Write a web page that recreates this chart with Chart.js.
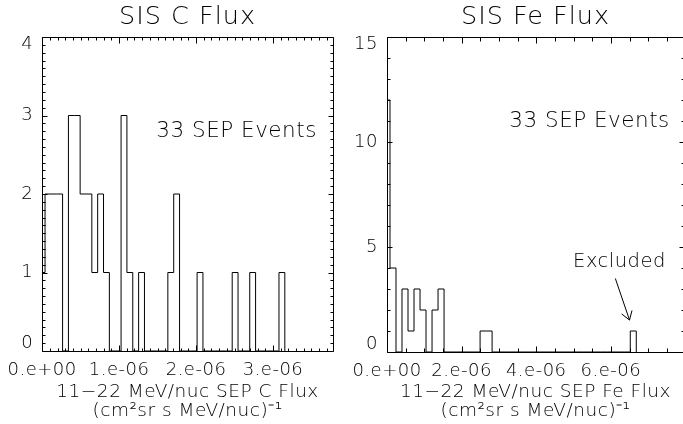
<!DOCTYPE html>
<html>
<head>
<meta charset="utf-8">
<script src="https://cdn.jsdelivr.net/npm/chart.js@4.4.1/dist/chart.umd.min.js"></script>
<style>
  html, body { margin: 0; padding: 0; background: #fff; width: 683px; height: 424px; overflow: hidden; }
  .panel { position: absolute; top: 0; height: 424px; }
</style>
</head>
<body>
<div class="panel" style="left:0;width:340px"><canvas id="cChart"></canvas></div>
<div class="panel" style="left:340px;width:350px"><canvas id="feChart"></canvas></div>
<script>
// ---------------- data (flux in units of 1e-6 (cm^2 sr s MeV/nuc)^-1) ----------------
const cBinStart = -0.038;      // left edge of first histogram bin
const cBinWidth = 0.076;
const cCounts = [1, 2, 2, 2, 0, 3, 3, 2, 2, 1, 2, 1, 0, 0, 3, 1, 0, 1, 0, 0, 0, 0,
                 1, 2, 0, 0, 0, 1, 0, 0, 0, 0, 0, 1, 0, 0, 1, 0, 0, 0, 0, 1];

const feBinStart = -0.081;
const feBinWidth = 0.161;
const feCounts = [12, 4, 0, 3, 1, 3, 2, 0, 2, 3, 0, 0, 0, 0, 0, 0, 1, 1,
                  0, 0, 0, 0, 0, 0, 0, 0, 0, 0, 0, 0, 0, 0, 0, 0, 0, 0, 0, 0, 0, 0, 0, 1];

const cXTickLabels = ['0.e+00', '1.e-06', '2.e-06', '3.e-06'];
const feXTickLabels = ['0.e+00', '2.e-06', '4.e-06', '6.e-06'];
const cYTickLabels = ['0', '1', '2', '3', '4'];
const feYTickLabels = ['0', '5', '10', '15'];

const cTitle = 'SIS C Flux';
const feTitle = 'SIS Fe Flux';
const cAxisTitle = ['11\u221222 MeV/nuc SEP C Flux', '(cm\u00b2sr s MeV/nuc)\u207b\u00b9'];
const feAxisTitle = ['11\u221222 MeV/nuc SEP Fe Flux', '(cm\u00b2sr s MeV/nuc)\u207b\u00b9'];
const eventsLabel = '33 SEP Events';
const excludedLabel = 'Excluded';

// ---------------- rendering ----------------
const FONT = '"DejaVu Sans", "Liberation Sans", sans-serif';
const W = '200';

function histPoints(start, width, counts) {
  const pts = [{ x: start, y: 0 }];
  counts.forEach((c, i) => pts.push({ x: start + i * width, y: c }));
  pts.push({ x: start + counts.length * width, y: 0 });
  return pts;
}

const idlPlugin = {
  id: 'idl',
  beforeDraw(chart) { chart.ctx.letterSpacing = '0.5px'; },
  afterDraw(chart, args, o) {
    const ctx = chart.ctx, a = chart.chartArea, xs = chart.scales.x, ys = chart.scales.y;
    const px = v => Math.round(v) + 0.5;
    const L = px(a.left), R = px(a.right), T = px(a.top), B = px(a.bottom);
    ctx.save();
    ctx.strokeStyle = '#000';
    ctx.fillStyle = '#000';
    ctx.lineWidth = 1;
    ctx.beginPath();
    ctx.rect(L, T, R - L, B - T);
    const nx = Math.round((xs.max - xs.min) / o.xMinor);
    for (let k = 0; k <= nx; k++) {
      const v = xs.min + k * o.xMinor;
      if (v > xs.max + 1e-9) continue;
      const p = px(xs.getPixelForValue(v));
      const major = Math.abs(v / o.xMajor - Math.round(v / o.xMajor)) < 1e-6;
      const len = major ? o.xMajLen : o.xMinLen;
      ctx.moveTo(p, B); ctx.lineTo(p, B - len);
      ctx.moveTo(p, T); ctx.lineTo(p, T + len);
    }
    const ny = Math.round((ys.max - ys.min) / o.yMinor);
    for (let k = 0; k <= ny; k++) {
      const v = ys.min + k * o.yMinor;
      const p = px(ys.getPixelForValue(v));
      const major = Math.abs(v / o.yMajor - Math.round(v / o.yMajor)) < 1e-6;
      const len = major ? o.yMajLen : o.yMinLen;
      ctx.moveTo(L, p); ctx.lineTo(L + len, p);
      ctx.moveTo(R, p); ctx.lineTo(R - len, p);
    }
    ctx.stroke();

    ctx.letterSpacing = '0.5px';
    ctx.font = W + ' 18px ' + FONT;
    ctx.textAlign = 'right';
    ctx.textBaseline = 'middle';
    ys.ticks.forEach((t, i) => {
      let p = ys.getPixelForValue(t.value);
      p = Math.min(Math.max(p, a.top + 7), a.bottom - 7.5);
      ctx.fillText(o.yLabels[i], a.left - 9, p);
    });

    ctx.letterSpacing = '1px';
    ctx.font = W + ' 25.5px ' + FONT;
    ctx.textAlign = 'center';
    ctx.fillText(o.title, (a.left + a.right) / 2, 17);

    ctx.letterSpacing = '0.5px';
    (o.notes || []).forEach(n => {
      ctx.font = W + ' ' + n.size + 'px ' + FONT;
      ctx.textAlign = n.align;
      ctx.fillText(n.text, xs.getPixelForValue(n.x), ys.getPixelForValue(n.y));
    });

    if (o.arrow) {
      const x1 = xs.getPixelForValue(o.arrow.x1), y1 = ys.getPixelForValue(o.arrow.y1);
      const x2 = xs.getPixelForValue(o.arrow.x2), y2 = ys.getPixelForValue(o.arrow.y2);
      const ang = Math.atan2(y1 - y2, x1 - x2), hl = 10, ha = 0.58;
      ctx.beginPath();
      ctx.moveTo(x1, y1); ctx.lineTo(x2, y2);
      ctx.moveTo(x2 + hl * Math.cos(ang - ha), y2 + hl * Math.sin(ang - ha));
      ctx.lineTo(x2, y2);
      ctx.lineTo(x2 + hl * Math.cos(ang + ha), y2 + hl * Math.sin(ang + ha));
      ctx.stroke();
    }
    ctx.restore();
  }
};

function makeChart(id, p) {
  return new Chart(document.getElementById(id), {
    type: 'line',
    data: {
      datasets: [{
        data: histPoints(p.binStart, p.binWidth, p.counts),
        stepped: 'before',
        borderColor: '#000',
        borderWidth: 1,
        pointRadius: 0,
        fill: false,
        tension: 0
      }]
    },
    options: {
      responsive: true,
      maintainAspectRatio: false,
      animation: false,
      events: [],
      layout: { padding: { top: p.padTop, right: p.padRight, left: 0, bottom: 0 } },
      plugins: {
        legend: { display: false },
        tooltip: { enabled: false },
        idl: p.idl
      },
      scales: {
        x: {
          type: 'linear',
          min: 0,
          max: p.xMax,
          grid: { display: false, drawTicks: false },
          border: { display: false },
          ticks: {
            stepSize: p.xStep,
            includeBounds: false,
            autoSkip: false,
            maxRotation: 0,
            padding: 9,
            color: '#000',
            font: { family: FONT, size: 18, weight: W },
            callback: (v, i) => p.xTickLabels[i]
          },
          title: {
            display: true,
            text: p.axisTitle,
            color: '#000',
            font: { family: FONT, size: 18.5, lineHeight: 1.03, weight: W },
            padding: { top: 0, bottom: 3.5 }
          },
          afterFit(s) { s.height = p.xHeight; }
        },
        y: {
          type: 'linear',
          min: 0,
          max: p.yMax,
          grid: { display: false, drawTicks: false },
          border: { display: false },
          ticks: { display: false, stepSize: p.yStep, includeBounds: false },
          afterFit(s) { s.width = p.yWidth; }
        }
      }
    },
    plugins: [idlPlugin]
  });
}

makeChart('cChart', {
  binStart: cBinStart, binWidth: cBinWidth, counts: cCounts,
  xMax: 3.78, xStep: 1, yMax: 4, yStep: 1,
  xTickLabels: cXTickLabels, axisTitle: cAxisTitle,
  padTop: 37, padRight: 7, xHeight: 73, yWidth: 34,
  idl: {
    title: cTitle, yLabels: cYTickLabels,
    xMajor: 1, xMinor: 0.1, yMajor: 1, yMinor: 0.1,
    xMajLen: 6, xMinLen: 3, yMajLen: 5, yMinLen: 3,
    notes: [{ text: eventsLabel, x: 3.57, y: 2.8, align: 'right', size: 21.5 }]
  }
});

makeChart('feChart', {
  binStart: feBinStart, binWidth: feBinWidth, counts: feCounts,
  xMax: 7.96, xStep: 2, yMax: 15, yStep: 5,
  xTickLabels: feXTickLabels, axisTitle: feAxisTitle,
  padTop: 37, padRight: 6, xHeight: 72, yWidth: 47,
  idl: {
    title: feTitle, yLabels: feYTickLabels,
    xMajor: 2, xMinor: 0.5, yMajor: 5, yMinor: 1,
    xMajLen: 6, xMinLen: 4, yMajLen: 5, yMinLen: 3,
    notes: [
      { text: eventsLabel, x: 7.58, y: 11.0, align: 'right', size: 21.5 },
      { text: excludedLabel, x: 6.23, y: 4.29, align: 'center', size: 19.5 }
    ],
    arrow: { x1: 6.12, y1: 3.5, x2: 6.5, y2: 1.52 }
  }
});
</script>
</body>
</html>
